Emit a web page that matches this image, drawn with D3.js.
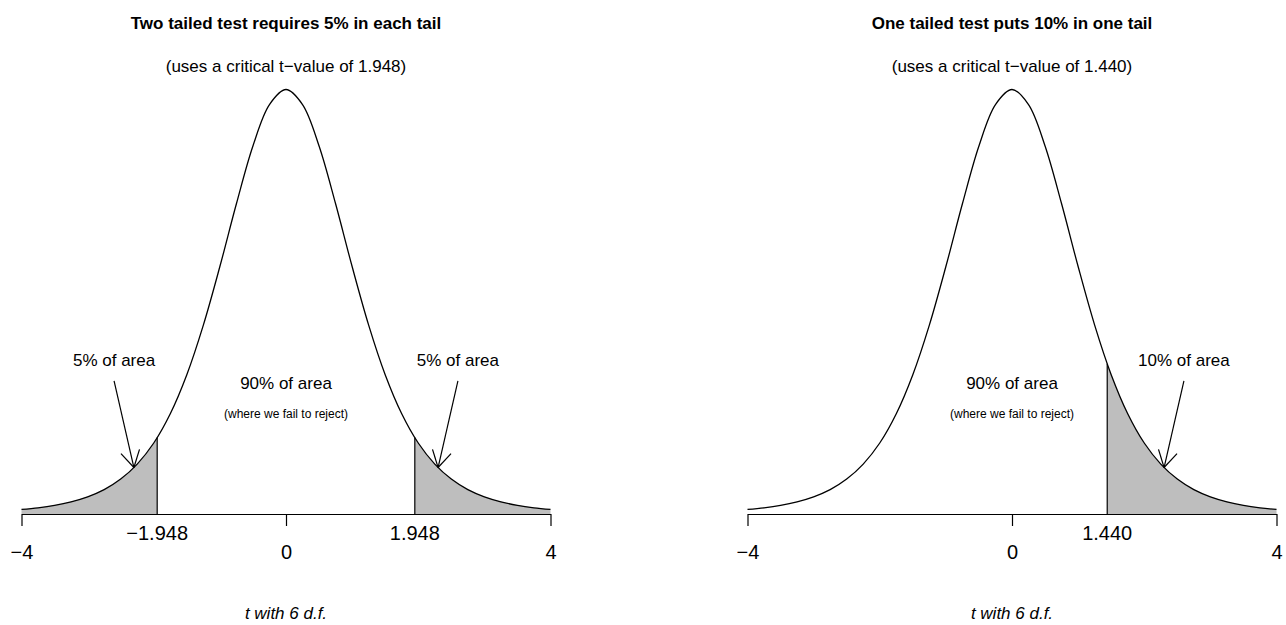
<!DOCTYPE html>
<html>
<head>
<meta charset="utf-8">
<script src="https://cdn.jsdelivr.net/npm/d3@7"></script>
<style>
  body { margin: 0; background: #fff; }
  svg { display: block; font-family: "Liberation Sans", Arial, Helvetica, sans-serif; }
</style>
</head>
<body>
<div id="chart"></div>
<script>
// t density with 6 d.f., tabulated from -4 to 4
const tValues = [-4, -3.75, -3.5, -3.25, -3, -2.75, -2.5, -2.25, -2, -1.75, -1.5, -1.25, -1, -0.75, -0.5, -0.25,
  0, 0.25, 0.5, 0.75, 1, 1.25, 1.5, 1.75, 2, 2.25, 2.5, 2.75, 3, 3.25, 3.5, 3.75, 4];
const densityValues = [0.0041, 0.0056, 0.0078, 0.0110, 0.0155, 0.0220, 0.0315, 0.0450, 0.0640, 0.0904, 0.1256, 0.1703, 0.2231, 0.2797, 0.3318, 0.3691,
  0.3827, 0.3691, 0.3318, 0.2797, 0.2231, 0.1703, 0.1256, 0.0904, 0.0640, 0.0450, 0.0315, 0.0220, 0.0155, 0.0110, 0.0078, 0.0056, 0.0041];

const axisTicks = [-4, 0, 4];

const panelTitles = ['Two tailed test requires 5% in each tail', 'One tailed test puts 10% in one tail'];
const panelSubtitles = ['(uses a critical t\u2212value of 1.948)', '(uses a critical t\u2212value of 1.440)'];
const xLabel = 't with 6 d.f.';

// critical values and the density at each
const twoTailCrit = [-1.948, 1.948];
const twoTailCritDensity = [0.0689, 0.0689];
const twoTailCritLabels = ['\u22121.948', '1.948'];
const oneTailCrit = [1.440];
const oneTailCritDensity = [0.1354];
const oneTailCritLabels = ['1.440'];

// arrows: label at (lx, ly), arrow from (x0, y0) to curve at (x1, y1)
const twoTailArrows = [
  { label: '5% of area', lx: -2.6, ly: 0.139, x0: -2.6, y0: 0.120, x1: -2.3, y1: 0.0419 },
  { label: '5% of area', lx: 2.6, ly: 0.139, x0: 2.6, y0: 0.120, x1: 2.3, y1: 0.0419 }
];
const oneTailArrows = [
  { label: '10% of area', lx: 2.6, ly: 0.139, x0: 2.6, y0: 0.120, x1: 2.3, y1: 0.0419 }
];
const middleLabel = '90% of area';
const middleNote = '(where we fail to reject)';

const width = 1286, height = 625;
const svg = d3.select('#chart').append('svg')
  .attr('width', width)
  .attr('height', height);

const points = tValues.map((t, i) => ({ t, d: densityValues[i] }));

function drawPanel(left, right, title, subtitle, crits, critDens, critLabels, arrows, tails) {
  const x = d3.scaleLinear().domain([-4, 4]).range([left, right]);
  const y = d3.scaleLinear().domain([0, 0.3827]).range([514, 89.5]);
  const g = svg.append('g');

  // shaded rejection regions
  const area = d3.area()
    .x(p => x(p.t))
    .y0(y(0))
    .y1(p => y(p.d))
    .curve(d3.curveCatmullRom);

  crits.forEach((c, i) => {
    const side = tails[i];
    let pts = side === 'left'
      ? points.filter(p => p.t < c).concat([{ t: c, d: critDens[i] }])
      : [{ t: c, d: critDens[i] }].concat(points.filter(p => p.t > c));
    g.append('path')
      .attr('d', area(pts))
      .attr('fill', '#bebebe')
      .attr('stroke', 'none');
    g.append('line')
      .attr('x1', x(c)).attr('x2', x(c))
      .attr('y1', y(0)).attr('y2', y(critDens[i]))
      .attr('stroke', '#000')
      .attr('stroke-width', 1.2);
  });

  // density curve
  const line = d3.line()
    .x(p => x(p.t))
    .y(p => y(p.d))
    .curve(d3.curveCatmullRom);
  g.append('path')
    .attr('d', line(points))
    .attr('fill', 'none')
    .attr('stroke', '#000')
    .attr('stroke-width', 1.3);

  // axis
  const axis = g.append('g')
    .attr('transform', `translate(0,${y(0)})`)
    .call(d3.axisBottom(x).tickValues(axisTicks).tickSize(12).tickSizeOuter(0).tickPadding(19));
  axis.select('.domain').attr('stroke', '#000').attr('stroke-width', 1.2);
  axis.selectAll('.tick line').attr('stroke', '#000').attr('stroke-width', 1.2);
  axis.selectAll('.tick text')
    .attr('font-size', 20)
    .attr('font-family', '"Liberation Sans", Arial, sans-serif')
    .attr('fill', '#000');

  g.selectAll('text.crit')
    .data(crits)
    .join('text')
    .attr('class', 'crit')
    .attr('x', d => x(d))
    .attr('y', y(0) + 19)
    .attr('dy', '0.35em')
    .attr('text-anchor', 'middle')
    .attr('font-size', 20)
    .text((d, i) => critLabels[i]);

  // arrows with open heads
  arrows.forEach(a => {
    const sx = x(a.x0), sy = y(a.y0), ex = x(a.x1), ey = y(a.y1);
    g.append('line')
      .attr('x1', sx).attr('y1', sy).attr('x2', ex).attr('y2', ey)
      .attr('stroke', '#000').attr('stroke-width', 1.2);
    const ang = Math.atan2(ey - sy, ex - sx);
    const len = 19, spread = Math.PI / 6;
    [ang + Math.PI - spread, ang + Math.PI + spread].forEach(b => {
      g.append('line')
        .attr('x1', ex).attr('y1', ey)
        .attr('x2', ex + len * Math.cos(b)).attr('y2', ey + len * Math.sin(b))
        .attr('stroke', '#000').attr('stroke-width', 1.2);
    });
    g.append('text')
      .attr('x', x(a.lx))
      .attr('y', y(a.ly))
      .attr('dy', '0.35em')
      .attr('text-anchor', 'middle')
      .attr('font-size', 17)
      .text(a.label);
  });

  // middle labels
  g.append('text')
    .attr('x', x(0)).attr('y', y(0.118)).attr('dy', '0.35em')
    .attr('text-anchor', 'middle').attr('font-size', 17)
    .text(middleLabel);
  g.append('text')
    .attr('x', x(0)).attr('y', y(0.0905)).attr('dy', '0.35em')
    .attr('text-anchor', 'middle').attr('font-size', 12)
    .text(middleNote);

  // titles
  g.append('text')
    .attr('x', x(0)).attr('y', 23).attr('dy', '0.35em')
    .attr('text-anchor', 'middle').attr('font-size', 17).attr('font-weight', 'bold')
    .text(title);
  g.append('text')
    .attr('x', x(0)).attr('y', 66).attr('dy', '0.35em')
    .attr('text-anchor', 'middle').attr('font-size', 17)
    .text(subtitle);
  g.append('text')
    .attr('x', x(0)).attr('y', 613).attr('dy', '0.35em')
    .attr('text-anchor', 'middle').attr('font-size', 17).attr('font-style', 'italic')
    .text(xLabel);
}

drawPanel(21.5, 550.5, panelTitles[0], panelSubtitles[0], twoTailCrit, twoTailCritDensity, twoTailCritLabels,
  twoTailArrows, ['left', 'right']);
drawPanel(747.5, 1276.5, panelTitles[1], panelSubtitles[1], oneTailCrit, oneTailCritDensity, oneTailCritLabels,
  oneTailArrows, ['right']);
</script>
</body>
</html>
